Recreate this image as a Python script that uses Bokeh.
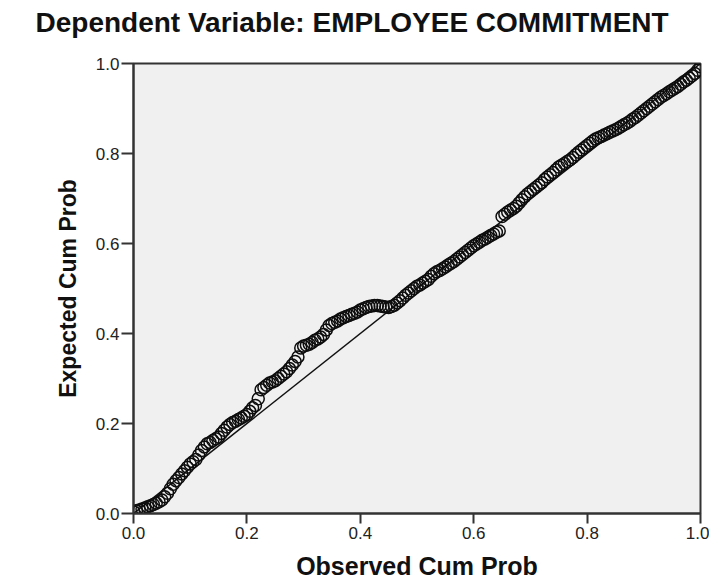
from bokeh.plotting import figure
from bokeh.models import Range1d, FixedTicker, NumeralTickFormatter
from bokeh.embed import file_html
from bokeh.resources import INLINE

title_text = "Dependent Variable: EMPLOYEE COMMITMENT"
x_title = "Observed Cum Prob"
y_title = "Expected Cum Prob"
tick_values = [0.0, 0.2, 0.4, 0.6, 0.8, 1.0]

observed = [
    0.000, 0.005, 0.010, 0.015, 0.020, 0.025, 0.030, 0.035, 0.040, 0.045,
    0.050, 0.055, 0.060, 0.065, 0.070, 0.075, 0.080, 0.085, 0.090, 0.095,
    0.100, 0.105, 0.110, 0.115, 0.120, 0.125, 0.130, 0.135, 0.140, 0.145,
    0.150, 0.155, 0.160, 0.165, 0.170, 0.175, 0.180, 0.185, 0.190, 0.195,
    0.200, 0.205, 0.210, 0.215, 0.220, 0.225, 0.230, 0.235, 0.240, 0.245,
    0.250, 0.255, 0.260, 0.265, 0.270, 0.275, 0.280, 0.285, 0.290, 0.295,
    0.300, 0.305, 0.310, 0.315, 0.320, 0.325, 0.330, 0.335, 0.340, 0.345,
    0.350, 0.355, 0.360, 0.365, 0.370, 0.375, 0.380, 0.385, 0.390, 0.395,
    0.400, 0.405, 0.410, 0.415, 0.420, 0.425, 0.430, 0.435, 0.440, 0.445,
    0.450, 0.455, 0.460, 0.465, 0.470, 0.475, 0.480, 0.485, 0.490, 0.495,
    0.500, 0.505, 0.510, 0.515, 0.520, 0.525, 0.530, 0.535, 0.540, 0.545,
    0.550, 0.555, 0.560, 0.565, 0.570, 0.575, 0.580, 0.585, 0.590, 0.595,
    0.600, 0.605, 0.610, 0.615, 0.620, 0.625, 0.630, 0.635, 0.640, 0.645,
    0.650, 0.655, 0.660, 0.665, 0.670, 0.675, 0.680, 0.685, 0.690, 0.695,
    0.700, 0.705, 0.710, 0.715, 0.720, 0.725, 0.730, 0.735, 0.740, 0.745,
    0.750, 0.755, 0.760, 0.765, 0.770, 0.775, 0.780, 0.785, 0.790, 0.795,
    0.800, 0.805, 0.810, 0.815, 0.820, 0.825, 0.830, 0.835, 0.840, 0.845,
    0.850, 0.855, 0.860, 0.865, 0.870, 0.875, 0.880, 0.885, 0.890, 0.895,
    0.900, 0.905, 0.910, 0.915, 0.920, 0.925, 0.930, 0.935, 0.940, 0.945,
    0.950, 0.955, 0.960, 0.965, 0.970, 0.975, 0.980, 0.985, 0.990, 0.995,
    1.000]
expected = [
    0.004, 0.006, 0.008, 0.010, 0.012, 0.015, 0.017, 0.020, 0.023, 0.026,
    0.030, 0.037, 0.045, 0.055, 0.065, 0.073, 0.080, 0.088, 0.095, 0.103,
    0.110, 0.115, 0.120, 0.130, 0.140, 0.148, 0.155, 0.158, 0.162, 0.166,
    0.170, 0.178, 0.185, 0.192, 0.198, 0.202, 0.205, 0.209, 0.212, 0.216,
    0.220, 0.227, 0.235, 0.240, 0.255, 0.275, 0.280, 0.285, 0.290, 0.292,
    0.295, 0.300, 0.305, 0.310, 0.315, 0.322, 0.330, 0.338, 0.348, 0.368,
    0.372, 0.374, 0.376, 0.380, 0.385, 0.388, 0.392, 0.398, 0.408, 0.418,
    0.422, 0.425, 0.428, 0.432, 0.435, 0.438, 0.440, 0.443, 0.445, 0.448,
    0.452, 0.455, 0.458, 0.460, 0.461, 0.462, 0.462, 0.461, 0.460, 0.459,
    0.458, 0.460, 0.463, 0.468, 0.473, 0.479, 0.485, 0.490, 0.495, 0.500,
    0.505, 0.508, 0.512, 0.516, 0.520, 0.527, 0.533, 0.537, 0.540, 0.544,
    0.548, 0.552, 0.556, 0.560, 0.565, 0.570, 0.575, 0.580, 0.585, 0.590,
    0.595, 0.599, 0.603, 0.607, 0.610, 0.614, 0.618, 0.621, 0.625, 0.628,
    0.660, 0.665, 0.670, 0.674, 0.678, 0.683, 0.690, 0.697, 0.704, 0.710,
    0.715, 0.720, 0.725, 0.730, 0.735, 0.742, 0.748, 0.753, 0.758, 0.764,
    0.770, 0.774, 0.778, 0.782, 0.786, 0.791, 0.797, 0.803, 0.808, 0.813,
    0.818, 0.823, 0.828, 0.832, 0.835, 0.838, 0.841, 0.844, 0.847, 0.850,
    0.853, 0.856, 0.860, 0.864, 0.867, 0.871, 0.876, 0.880, 0.885, 0.890,
    0.895, 0.900, 0.905, 0.910, 0.915, 0.920, 0.925, 0.929, 0.933, 0.937,
    0.941, 0.945, 0.949, 0.954, 0.959, 0.963, 0.968, 0.973, 0.978, 0.985,
    0.993]
ref_x = [0.0, 1.0]
ref_y = [0.0, 1.0]

p = figure(width=709, height=582, output_backend="svg", toolbar_location=None,
           x_range=Range1d(0, 1), y_range=Range1d(0, 1),
           min_border_left=133, min_border_right=9, min_border_top=63, min_border_bottom=69)
p.background_fill_color = "#f0f0f0"
p.border_fill_color = "white"
p.outline_line_color = "#333333"
p.outline_line_width = 2
p.grid.visible = False

# trailing blank line lifts the title towards the top of the canvas
p.title.text = title_text + "\n "
p.title.align = "left"
p.title.vertical_align = "top"
p.title.offset = -98
p.title.standoff = 0
p.title.text_line_height = 0.78
p.title.text_font = "Liberation Sans"
p.title.text_font_style = "bold"
p.title.text_font_size = "28px"
p.title.text_color = "#111111"

p.line(ref_x, ref_y, line_color="#111111", line_width=1.5)
p.scatter(observed, expected, marker="circle", size=12, fill_color=None,
          line_color="#0d0d0d", line_width=1.5)

for ax in (p.xaxis[0], p.yaxis[0]):
    ax.ticker = FixedTicker(ticks=tick_values)
    ax.formatter = NumeralTickFormatter(format="0.0")
    ax.axis_line_color = "#333333"
    ax.axis_line_width = 2
    ax.major_tick_line_color = "#333333"
    ax.major_tick_line_width = 2
    ax.major_tick_in = 0
    ax.minor_tick_line_color = None
    ax.major_label_text_font = "Liberation Sans"
    ax.major_label_text_font_size = "17px"
    ax.major_label_text_color = "#222222"
    ax.axis_label_text_font = "Liberation Sans"
    ax.axis_label_text_font_style = "bold"
    ax.axis_label_text_color = "#111111"

p.xaxis.major_tick_out = 10
p.yaxis.major_tick_out = 12
p.xaxis.major_label_standoff = 3
p.yaxis.major_label_standoff = 2
p.xaxis.axis_label = x_title
p.yaxis.axis_label = y_title
p.xaxis.axis_label_text_font_size = "25px"
p.yaxis.axis_label_text_font_size = "23px"
p.xaxis.axis_label_standoff = 10
p.yaxis.axis_label_standoff = 12

open("out.html", "w").write(file_html(p, INLINE))
